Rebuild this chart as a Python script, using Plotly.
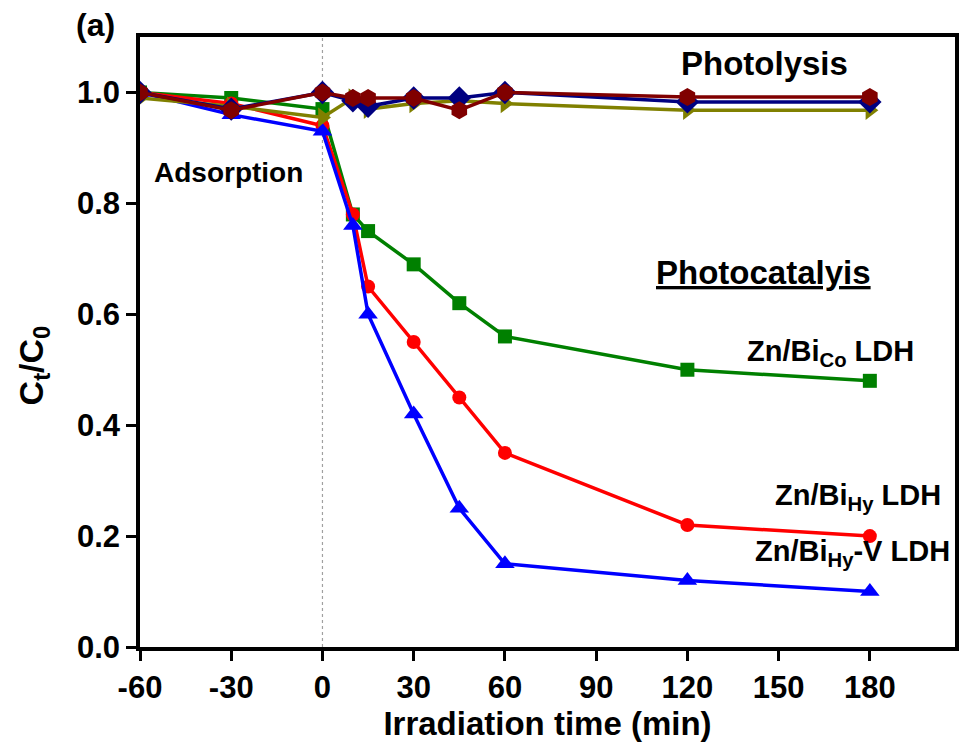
import plotly.graph_objects as go

time_min = [-60, -30, 0, 10, 15, 30, 45, 60, 120, 180]

zn_bi_co = [1.0, 0.99, 0.97, 0.78, 0.75, 0.69, 0.62, 0.56, 0.50, 0.48]
zn_bi_hy = [1.0, 0.98, 0.94, 0.78, 0.65, 0.55, 0.45, 0.35, 0.22, 0.20]
zn_bi_hy_v = [1.0, 0.96, 0.93, 0.76, 0.60, 0.42, 0.25, 0.15, 0.12, 0.10]

photo_navy = [1.0, 0.97, 1.0, 0.985, 0.975, 0.99, 0.99, 1.0, 0.983, 0.983]
photo_olive = [0.99, 0.975, 0.955, 0.99, 0.97, 0.98, 0.985, 0.98, 0.968, 0.968]
photo_maroon = [1.0, 0.968, 1.0, 0.99, 0.99, 0.99, 0.968, 1.0, 0.992, 0.992]

x_ticks = [-60, -30, 0, 30, 60, 90, 120, 150, 180]
y_ticks = [0.0, 0.2, 0.4, 0.6, 0.8, 1.0]

FONT = "Liberation Sans, Arial, sans-serif"

series = [
    ("Zn/Bi Co LDH", zn_bi_co, "#008000", "square", 14),
    ("Zn/Bi Hy LDH", zn_bi_hy, "#ff0000", "circle", 14),
    ("Zn/Bi Hy-V LDH", zn_bi_hy_v, "#0000ff", "triangle-up", 17),
    ("Photolysis olive", photo_olive, "#808000", "triangle-right", 17),
    ("Photolysis navy", photo_navy, "#000080", "diamond", 18),
    ("Photolysis maroon", photo_maroon, "#800000", "hexagon", 18),
]

fig = go.Figure()
for name, vals, col, sym, size in series:
    fig.add_trace(go.Scatter(
        x=time_min, y=vals, mode="lines+markers", name=name,
        line=dict(color=col, width=3.5),
        marker=dict(symbol=sym, size=size, color=col, line=dict(width=0)),
        showlegend=False,
    ))

# dotted separator at t = 0
fig.add_shape(type="line", xref="x", yref="paper", x0=0, x1=0, y0=0, y1=1,
              line=dict(color="#a0a0a0", width=1.2, dash="dot"), layer="below")

def ann(text, x, y, size, xanchor="center", yanchor="middle", xref="x", yref="y", angle=0):
    fig.add_annotation(text=text, x=x, y=y, xref=xref, yref=yref, showarrow=False,
                       xanchor=xanchor, yanchor=yanchor, textangle=angle,
                       font=dict(family=FONT, size=size, color="black", weight="bold"))

ann("(a)", -0.055, 1.02, 32, xref="paper", yref="paper")
ann("Photolysis", 145.3, 1.053, 33)
ann("Adsorption", -30.9, 0.855, 28)
ann("<u>Photocatalyis</u>", 145.0, 0.676, 33)
ann("Zn/Bi<sub>Co</sub> LDH", 195.1, 0.53, 29, xanchor="right")
ann("Zn/Bi<sub>Hy</sub> LDH", 203.9, 0.27, 29, xanchor="right")
ann("Zn/Bi<sub>Hy</sub>-V LDH", 206.9, 0.17, 29, xanchor="right")
# y-axis title (positioned like the reference, slightly below axis middle)
ann("C<sub>t</sub>/C<sub>0</sub>", -0.131, 0.462, 34, xref="paper", yref="paper", angle=-90)

axis_common = dict(
    showline=True, linecolor="black", linewidth=3.5, mirror=True,
    ticks="outside", ticklen=10, tickwidth=3, tickcolor="black",
    showgrid=False, zeroline=False,
    tickfont=dict(family=FONT, size=31, color="black", weight="bold"),
)

fig.update_xaxes(range=[-60, 208], tickvals=x_ticks, ticktext=[str(v) for v in x_ticks],
                 title=dict(text="Irradiation time (min)", standoff=0,
                            font=dict(family=FONT, size=33, color="black", weight="bold")),
                 **axis_common)
fig.update_yaxes(range=[0, 1.1], tickvals=y_ticks, ticktext=[f"{v:.1f}" for v in y_ticks],
                 **axis_common)

fig.update_layout(
    width=962, height=754,
    margin=dict(l=140, r=3, t=37, b=107),
    paper_bgcolor="white", plot_bgcolor="white",
    font=dict(family=FONT, color="black"),
)

fig.write_html("out.html")
